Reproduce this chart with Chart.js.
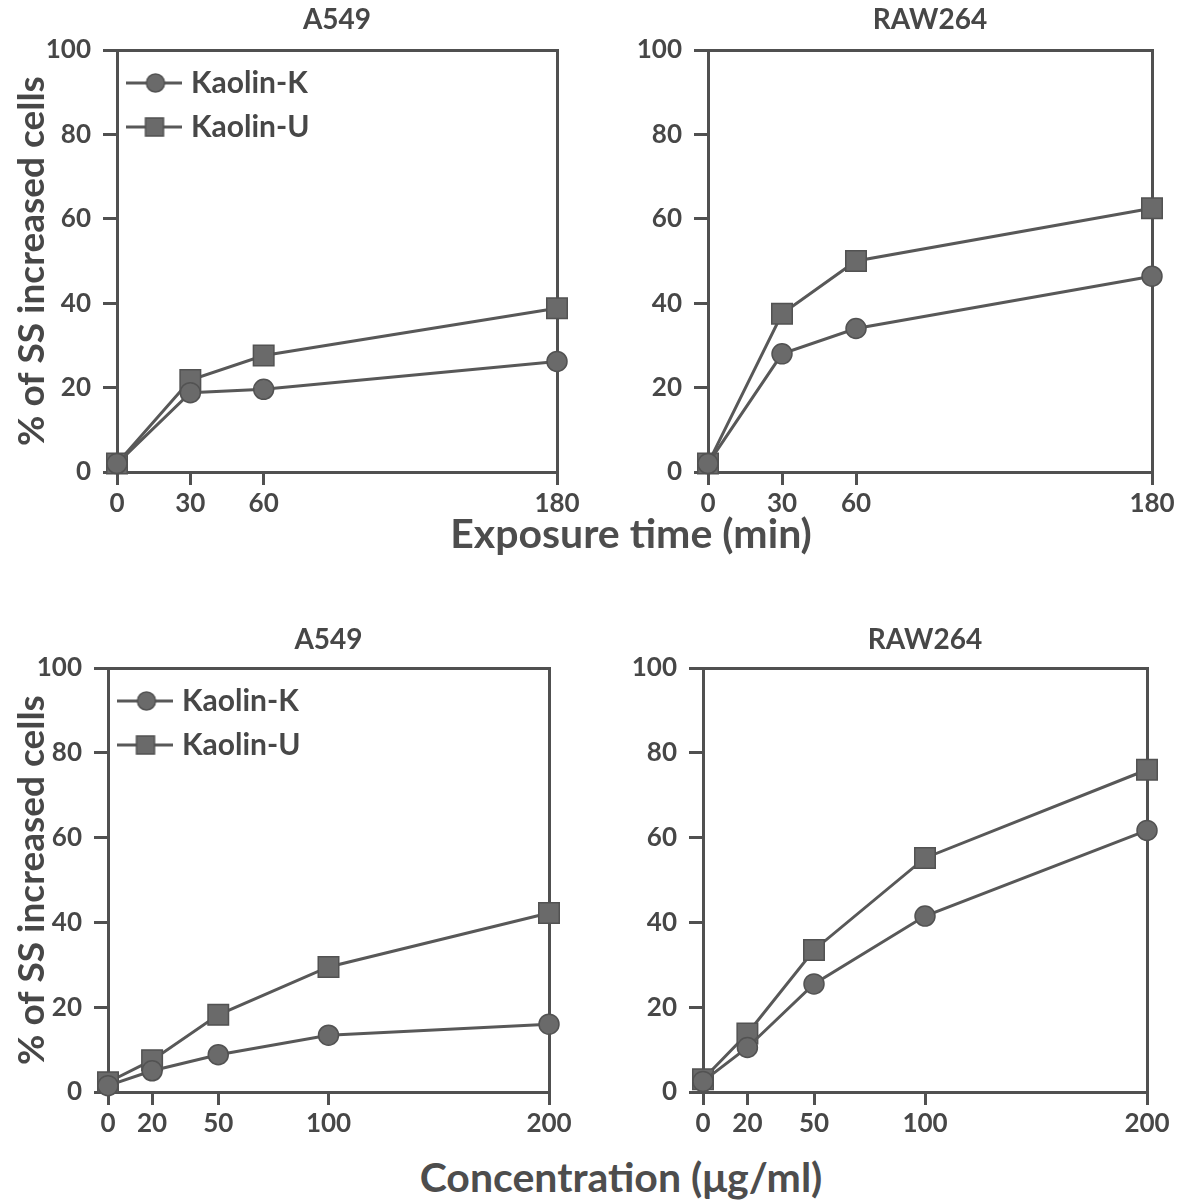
<!DOCTYPE html>
<html>
<head>
<meta charset="utf-8">
<script src="https://cdn.jsdelivr.net/npm/chart.js@4"></script>
<style>
  body { margin: 0; background: #fff; width: 1178px; height: 1204px; position: relative; overflow: hidden; }
  .panel { position: absolute; }
  .big-title { position: absolute; color: #4d4d4d; font-family: Lato, sans-serif; font-weight: bold; font-size: 41px; line-height: 1; white-space: nowrap; transform: translateX(-50%); }
</style>
</head>
<body>
<canvas class="panel" id="c1" width="590" height="520" style="left:0;top:0"></canvas>
<canvas class="panel" id="c2" width="588" height="520" style="left:590px;top:0"></canvas>
<canvas class="panel" id="c3" width="590" height="520" style="left:0;top:620px"></canvas>
<canvas class="panel" id="c4" width="588" height="520" style="left:590px;top:620px"></canvas>
<div class="big-title" style="left:631px;top:512px">Exposure time (min)</div>
<div class="big-title" style="left:621px;top:1156px">Concentration (μg/ml)</div>
<script>
// exposure time series (min)
const timeTicks = [0, 30, 60, 180];
const a549TimeK = [2, 18.8, 19.6, 26.2];
const a549TimeU = [2, 21.8, 27.6, 38.8];
const rawTimeK = [2, 28, 34, 46.4];
const rawTimeU = [2, 37.5, 50, 62.5];

// concentration series (ug/ml)
const concTicks = [0, 20, 50, 100, 200];
const a549ConcK = [1.5, 5, 8.8, 13.4, 16];
const a549ConcU = [2.3, 7.5, 18.2, 29.5, 42.2];
const rawConcK = [2.5, 10.5, 25.5, 41.5, 61.7];
const rawConcU = [3, 13.8, 33.5, 55.2, 76];

const yTicks = [0, 20, 40, 60, 80, 100];
const seriesNames = ['Kaolin-K', 'Kaolin-U'];

const TEXT = '#474747';
const AXIS = '#505050';
const LINE = '#585858';
const FILL = '#6a6a6a';
const EDGE = '#525252';
const FONT = 'Lato, sans-serif';

function legendIcon(shape) {
  const c = document.createElement('canvas');
  c.width = 56; c.height = 22;
  const g = c.getContext('2d');
  g.strokeStyle = LINE; g.lineWidth = 3;
  g.beginPath(); g.moveTo(0, 11); g.lineTo(56, 11); g.stroke();
  g.fillStyle = FILL; g.strokeStyle = EDGE; g.lineWidth = 1.5;
  g.beginPath();
  if (shape === 'circle') g.arc(30, 11, 9, 0, Math.PI * 2);
  else g.rect(20, 2, 18, 18);
  g.fill(); g.stroke();
  return c;
}
const icons = [legendIcon('circle'), legendIcon('rect')];

// keep the legend inside the plot box, just under its top edge
const legendInside = {
  id: 'legendInside',
  afterLayout(chart) {
    const l = chart.legend;
    if (!l || !l.options.display) return;
    const h = l.bottom - l.top;
    l.top = chart.chartArea.top + 4;
    l.bottom = l.top + h;
  }
};

function pts(xs, ys) {
  return xs.map((x, i) => ({ x: x, y: ys[i] }));
}

function makePanel(id, p) {
  const ctx = document.getElementById(id).getContext('2d');
  const ds = (label, ys, style, r) => ({
    label: label,
    data: pts(p.xTicks, ys),
    borderColor: LINE,
    borderWidth: 3,
    pointStyle: style,
    pointRadius: r,
    pointBackgroundColor: FILL,
    pointBorderColor: EDGE,
    pointBorderWidth: 1.5,
    tension: 0,
    clip: false
  });
  new Chart(ctx, {
    type: 'line',
    data: {
      datasets: [
        ds(seriesNames[0], p.k, 'circle', 10),
        ds(seriesNames[1], p.u, 'rect', 14.5)
      ]
    },
    plugins: [legendInside],
    options: {
      responsive: false,
      animation: false,
      events: [],
      layout: { padding: 0 },
      plugins: {
        tooltip: { enabled: false },
        title: {
          display: true,
          text: p.title,
          fullSize: false,
          color: TEXT,
          font: { family: FONT, size: 28, weight: 'bold' },
          padding: { top: 3, bottom: p.titleGap }
        },
        legend: {
          display: p.legend,
          position: 'chartArea',
          align: 'start',
          labels: {
            usePointStyle: true,
            pointStyleWidth: 45,
            boxHeight: 30,
            padding: 14,
            color: TEXT,
            font: { family: FONT, size: 30, weight: 'bold' },
            generateLabels: chart => chart.data.datasets.map((d, i) => ({
              text: d.label,
              pointStyle: icons[i],
              datasetIndex: i,
              fillStyle: 'transparent',
              strokeStyle: 'transparent',
              lineWidth: 0,
              hidden: false,
              fontColor: TEXT
            }))
          }
        }
      },
      scales: {
        x: {
          type: 'linear',
          position: 'bottom',
          min: 0,
          max: p.xTicks[p.xTicks.length - 1],
          afterBuildTicks: s => { s.ticks = p.xTicks.map(v => ({ value: v })); },
          afterFit: s => { s.height = 48; },
          ticks: { color: TEXT, font: { family: FONT, size: 26, weight: 'bold' }, padding: 3, maxRotation: 0, autoSkip: false },
          grid: { drawOnChartArea: false, tickLength: 13, color: AXIS, lineWidth: 3 },
          border: { color: AXIS, width: 3 }
        },
        x2: {
          type: 'linear',
          position: 'top',
          min: 0,
          max: p.xTicks[p.xTicks.length - 1],
          afterFit: s => { s.height = 0; },
          ticks: { display: false },
          grid: { display: false },
          border: { color: AXIS, width: 3 }
        },
        y: {
          min: 0,
          max: 100,
          afterBuildTicks: s => { s.ticks = yTicks.map(v => ({ value: v })); },
          afterFit: s => { s.width = p.yWidth; },
          ticks: { color: TEXT, font: { family: FONT, size: 26, weight: 'bold' }, padding: 12 },
          grid: { drawOnChartArea: false, tickLength: 14, color: AXIS, lineWidth: 3 },
          border: { color: AXIS, width: 3 },
          title: {
            display: p.yTitle,
            text: '% of SS increased cells',
            color: TEXT,
            font: { family: FONT, size: 37, weight: 'bold' },
            padding: { top: 10, bottom: 0 }
          }
        },
        y2: {
          position: 'right',
          min: 0,
          max: 100,
          afterFit: s => { s.width = p.rightGap; },
          ticks: { display: false },
          grid: { display: false },
          border: { color: AXIS, width: 3 }
        }
      }
    }
  });
}

makePanel('c1', { title: 'A549', xTicks: timeTicks, k: a549TimeK, u: a549TimeU, legend: true, yTitle: true, yWidth: 117, rightGap: 33, titleGap: 13.4 });
makePanel('c2', { title: 'RAW264', xTicks: timeTicks, k: rawTimeK, u: rawTimeU, legend: false, yTitle: false, yWidth: 118, rightGap: 26, titleGap: 13.4 });
makePanel('c3', { title: 'A549', xTicks: concTicks, k: a549ConcK, u: a549ConcU, legend: true, yTitle: true, yWidth: 108, rightGap: 41, titleGap: 11.4 });
makePanel('c4', { title: 'RAW264', xTicks: concTicks, k: rawConcK, u: rawConcU, legend: false, yTitle: false, yWidth: 113, rightGap: 31, titleGap: 11.4 });
</script>
</body>
</html>
